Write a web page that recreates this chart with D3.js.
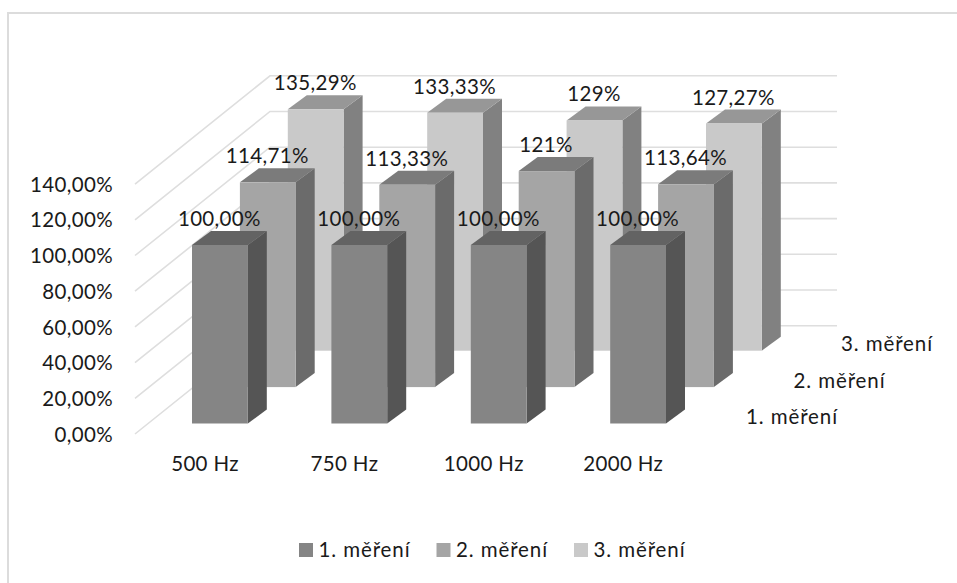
<!DOCTYPE html>
<html><head><meta charset="utf-8">
<script src="https://cdn.jsdelivr.net/npm/d3@7/dist/d3.min.js"></script>
<style>html,body{margin:0;padding:0;background:#fff}svg{display:block}text{font-family:Lato,"Noto Sans",sans-serif;fill:#1a1a1a;letter-spacing:.35px}text.sn{letter-spacing:.9px}</style>
</head><body><svg id="c" width="957" height="583"></svg>
<script>
const categories = ["500 Hz","750 Hz","1000 Hz","2000 Hz"];
const seriesNames = ["1. měření","2. měření","3. měření"];
const series1 = [100.00,100.00,100.00,100.00];
const series2 = [114.71,113.33,121,113.64];
const series3 = [135.29,133.33,129,127.27];
const labels1 = ["100,00%","100,00%","100,00%","100,00%"];
const labels2 = ["114,71%","113,33%","121%","113,64%"];
const labels3 = ["135,29%","133,33%","129%","127,27%"];
const axisTicks = [0,20,40,60,80,100,120,140];
const seriesColors = [
 {front:"#858585",side:"#555555",top:"#636363"},
 {front:"#a5a5a5",side:"#6b6b6b",top:"#7b7b7b"},
 {front:"#c9c9c9",side:"#818181",top:"#979797"}];

const svg = d3.select("#c");
const FS = 20.5;
// chart frame
svg.append("path").attr("d","M8,600V13H957").attr("fill","none").attr("stroke","#dcdcdc").attr("stroke-width",2);

// value scale: pixels up from the floor
const h = d3.scaleLinear().domain([0,140]).range([0,249.9]);
const y0Front = 434, y0Back = 325.7, xFront = 135, xBack = 270, xBackEnd = 837;

// grid
const grid = svg.append("g").attr("stroke","#dedede").attr("stroke-width",1.6).attr("fill","none");
axisTicks.forEach(t=>{
  const d = h(t);
  grid.append("polyline").attr("points",[[xFront,y0Front-d],[xBack,y0Back-d],[xBackEnd,y0Back-d]].map(p=>p.join(",")).join(" "));
});

// tick labels
svg.append("g").selectAll("text").data(axisTicks).join("text")
  .attr("x",113).attr("y",t=>y0Front-h(t)+7.6).attr("text-anchor","end").attr("font-size",FS)
  .text(t=>t.toFixed(2).replace(".",",")+"%");

// bars
const xCat = d3.scalePoint().domain(categories).range([192,610.2]);
const xSer = d3.scalePoint().domain(seriesNames).range([0,95.8]);
const ySer = d3.scalePoint().domain(seriesNames).range([423.5,350.7]);
const barW = 55.8, depX = 19, depY = 14;
const allValues = [series1,series2,series3], allLabels=[labels1,labels2,labels3];
const poly = pts => pts.map(p=>p.join(",")).join(" ");
const order = [2,1,0];
const labelLayer = [];
order.forEach(si=>{
  const name = seriesNames[si], col = seriesColors[si];
  categories.forEach((c,ci)=>{
    const x = xCat(c)+xSer(name), yb = ySer(name), yt = yb-h(allValues[si][ci]);
    const g = svg.append("g");
    g.append("polygon").attr("points",poly([[x+barW,yb],[x+barW+depX,yb-depY],[x+barW+depX,yt-depY],[x+barW,yt]])).attr("fill",col.side);
    g.append("polygon").attr("points",poly([[x,yt],[x+depX,yt-depY],[x+barW+depX,yt-depY],[x+barW,yt]])).attr("fill",col.top);
    g.append("rect").attr("x",x).attr("y",yt).attr("width",barW).attr("height",yb-yt).attr("fill",col.front);
    labelLayer.push({x:x+barW/2-0.5, y:yt-19, t:allLabels[si][ci]});
  });
});
svg.append("g").selectAll("text").data(labelLayer).join("text")
  .attr("x",d=>d.x).attr("y",d=>d.y).attr("text-anchor","middle").attr("font-size",FS).text(d=>d.t);

// category labels
svg.append("g").selectAll("text").data(categories).join("text")
  .attr("x",c=>xCat(c)+13).attr("y",471).attr("text-anchor","middle").attr("font-size",FS).text(c=>c);

// depth labels
const depthX = d3.scalePoint().domain(seriesNames).range([746,841]);
const depthY = d3.scalePoint().domain(seriesNames).range([424,351]);
svg.append("g").selectAll("text").data(seriesNames).join("text").attr("class","sn")
  .attr("x",n=>depthX(n)).attr("y",n=>depthY(n)).attr("font-size",FS).text(n=>n);

// legend
const legX = d3.scalePoint().domain(seriesNames).range([299,574]);
const leg = svg.append("g").selectAll("g").data(seriesNames).join("g");
leg.append("rect").attr("x",n=>legX(n)).attr("y",543).attr("width",14).attr("height",14)
  .attr("fill",(n,i)=>seriesColors[i].front);
leg.append("text").attr("class","sn").attr("x",n=>legX(n)+19.5).attr("y",557).attr("font-size",FS).text(n=>n);
</script></body></html>
